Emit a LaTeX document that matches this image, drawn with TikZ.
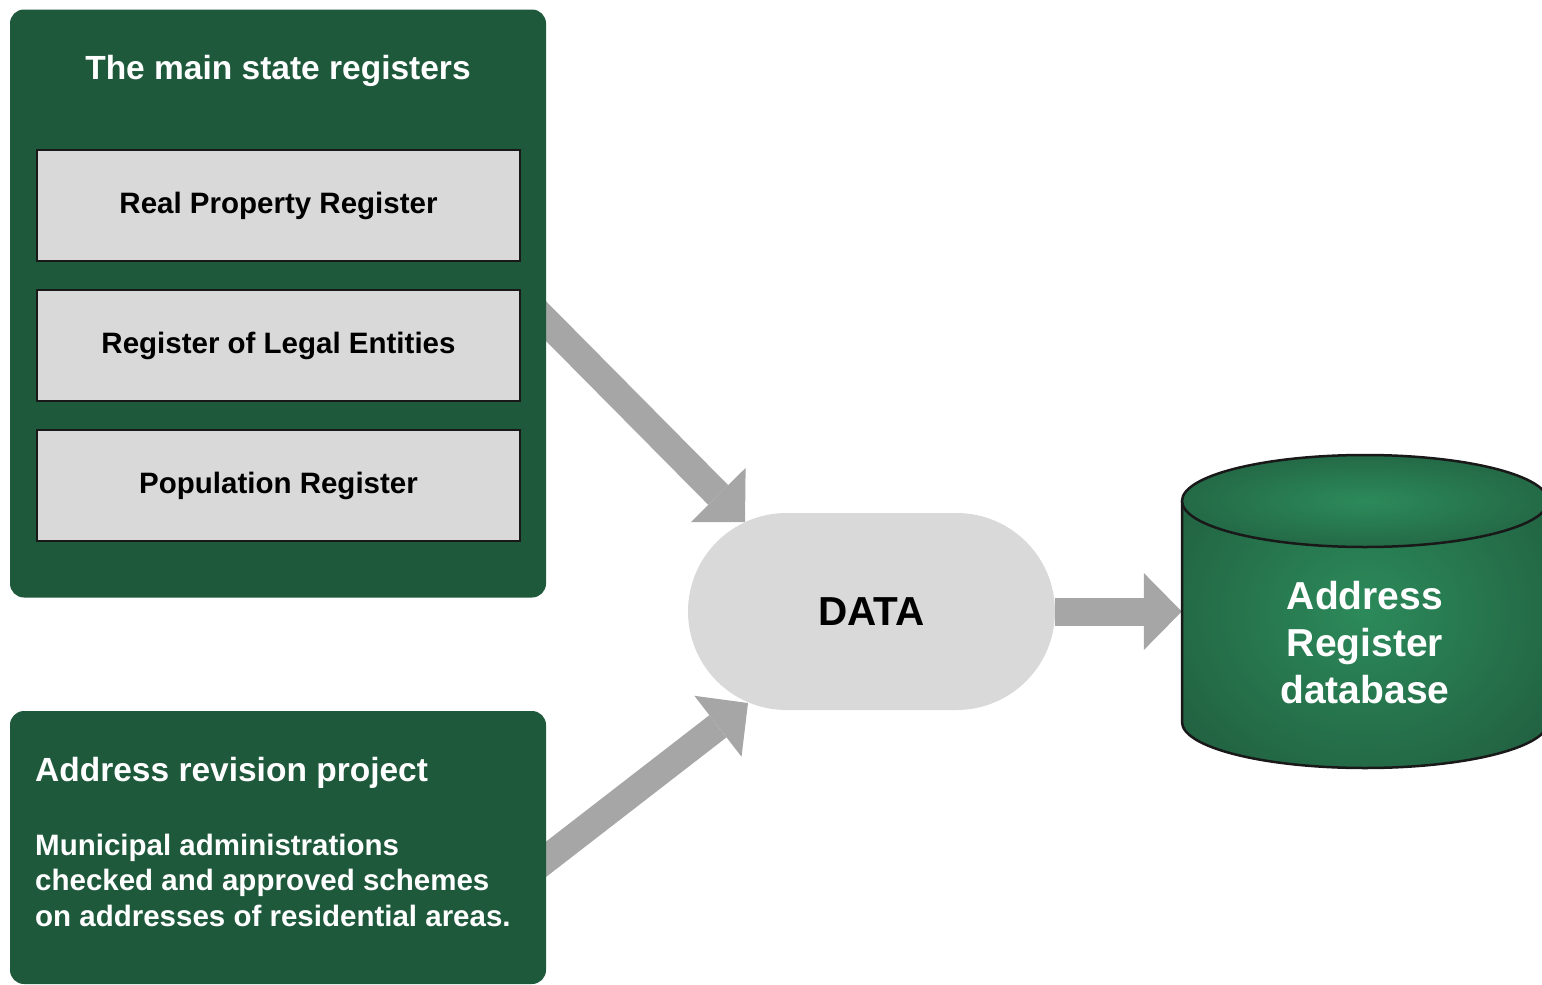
\documentclass[tikz,border=0pt]{standalone}
\usepackage{fontspec}
\setmainfont{Liberation Sans}
\usetikzlibrary{arrows.meta,shapes.misc,calc}
\definecolor{dgreen}{RGB}{31,89,60}
\definecolor{lgreen}{RGB}{44,138,90}
\definecolor{boxgray}{RGB}{217,217,217}
\definecolor{arrgray}{RGB}{166,166,166}
\pgfdeclareradialshading{cylshade}{\pgfpoint{0bp}{0bp}}{color(0bp)=(lgreen); color(38bp)=(dgreen); color(50bp)=(dgreen)}
\begin{document}
\begin{tikzpicture}[x=1pt,y=-1pt,
  greenbox/.style={fill=dgreen, draw=none, rounded corners=14pt, inner sep=0pt, minimum width=536pt},
  regbox/.style={fill=boxgray, draw=black!90, line width=2.5pt, minimum width=483pt, minimum height=111pt,
     inner sep=0pt, font=\fontsize{29.5}{35}\selectfont\bfseries, text=black},
  whitetitle/.style={text=white, inner sep=0pt, font=\fontsize{33.5}{40}\selectfont\bfseries},
  whitebody/.style={text=white, inner sep=0pt, align=left, font=\fontsize{29.5}{35.5}\selectfont\bfseries},
  bigarrow/.style={draw=arrgray, line width=28pt, -{Triangle[length=38pt,width=77pt,line width=0pt]}},
  datashape/.style={rounded rectangle, fill=boxgray, draw=none, minimum width=367pt, minimum height=197pt,
     inner sep=0pt, font=\fontsize{40.5}{47}\selectfont\bfseries, text=black},
  cyltext/.style={text=white, inner sep=0pt, align=center, font=\fontsize{39}{47}\selectfont\bfseries},
  cylline/.style={draw=black!90, line width=2.5pt}
]
\useasboundingbox (0,0) rectangle (1542,985);
\clip (0,0) rectangle (1542,985);

% named points for connector ends
\coordinate (a1s) at (532,307);
\coordinate (a1t) at (745,522);
\coordinate (a2s) at (527,874);
\coordinate (a2t) at (748,703);

% arrows (drawn behind boxes)
\draw[bigarrow] (a1s) -- (a1t);
\draw[bigarrow] (a2s) -- (a2t);

% DATA
\node[datashape] (data) at (871.5,611.5) {DATA};
\node[inner sep=0pt, minimum width=366pt, minimum height=313pt] (db) at (1365,611.5) {};
\draw[bigarrow] (data.east) -- (db.west);

% top green box
\node[greenbox, minimum height=588pt] (main) at (278,303.5) {};
\node[whitetitle, anchor=base] (maintitle) at (278,79) {The main state registers};
\node[regbox] (rp)  at (278.5,205.5) {Real Property Register};
\node[regbox] (rle) at (278.5,345.5) {Register of Legal Entities};
\node[regbox] (pr)  at (278.5,485.5) {Population Register};

% bottom green box
\node[greenbox, minimum height=273pt] (arp) at (278,847.5) {};
\node[whitetitle, anchor=base west] (arptitle) at (35,781) {Address revision project};
\node[whitebody, anchor=base west] (arpbody) at (35,926) {Municipal administrations\\checked and approved schemes\\on addresses of residential areas.};

% database cylinder
\path[shading=cylshade] (1182,501) -- (1182,722)
   arc[start angle=180,end angle=360,x radius=183pt,y radius=46pt] -- (1548,501)
   arc[start angle=0,end angle=180,x radius=183pt,y radius=46pt] -- cycle;
\draw[cylline] (1182,501) -- (1182,722)
   arc[start angle=180,end angle=360,x radius=183pt,y radius=46pt] -- (1548,501);
\path[shading=cylshade] (1365,501) ellipse[x radius=183pt,y radius=46pt];
\draw[cylline] (1365,501) ellipse[x radius=183pt,y radius=46pt];
\node[cyltext] (dbtext) at (1365,643) {Address\\Register\\database};
\end{tikzpicture}
\end{document}
